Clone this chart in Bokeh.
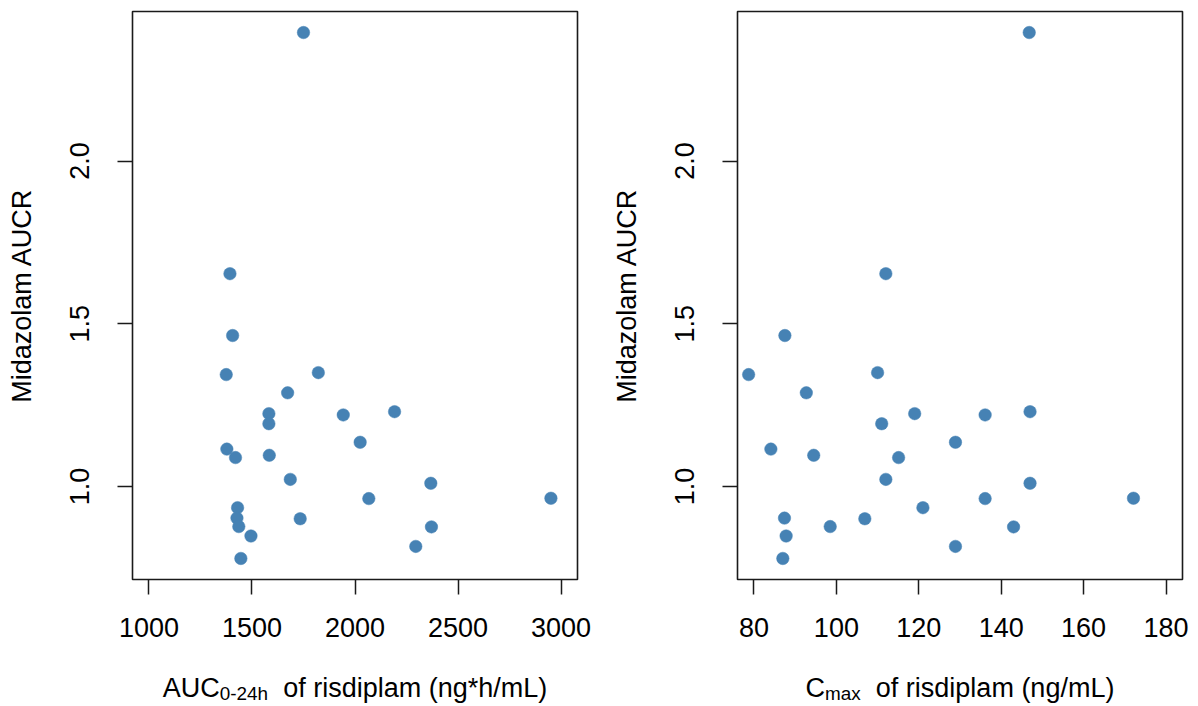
from bokeh.plotting import figure
from bokeh.layouts import row, column
from bokeh.models import Range1d, FixedTicker, NumeralTickFormatter
from bokeh.core.properties import value
from bokeh.embed import file_html
from bokeh.resources import INLINE

# ---- data ----
aucr = [2.395, 1.654, 1.464, 1.344, 1.350, 1.288, 1.224, 1.193, 1.220, 1.230,
        1.136, 1.115, 1.096, 1.089, 1.022, 1.010, 0.963, 0.964, 0.935, 0.903,
        0.901, 0.877, 0.876, 0.848, 0.816, 0.779]
auc_0_24h = [1750, 1393, 1406, 1375, 1822, 1673, 1582, 1582, 1943, 2192,
             2025, 1378, 1584, 1420, 1686, 2368, 2067, 2951, 1430, 1427,
             1734, 1436, 2371, 1495, 2295, 1446]
cmax = [146.8, 112.0, 87.5, 78.7, 110.0, 92.7, 119.0, 111.0, 136.1, 147.0,
        128.9, 84.1, 94.5, 115.1, 112.0, 147.0, 136.1, 172.1, 121.0, 87.4,
        106.9, 98.5, 143.0, 87.8, 128.9, 87.0]

auc_ticks = [1000, 1500, 2000, 2500, 3000]
cmax_ticks = [80, 100, 120, 140, 160, 180]
y_ticks = [1.0, 1.5, 2.0]
y_label = "Midazolam AUCR"

FONT = "Liberation Sans"
FS = 27
SUB_FS = FS * 0.7
POINT_COLOR = "#4682B4"
MAIN_H = 656
TITLE_H = 50
FRAME_L, FRAME_R = 132, 577   # frame edges inside each panel (px)

# Arial / Liberation Sans advance widths (em)
W = {'A': .667, 'U': .722, 'C': .722, 'L': .556, '0': .556, '2': .556, '4': .556,
     '-': .333, 'h': .556, 'm': .833, 'a': .556, 'x': .5, 'o': .556, 'f': .278,
     ' ': .278, 'r': .333, 'i': .222, 's': .5, 'd': .556, 'p': .556, 'l': .222,
     '(': .333, ')': .333, 'n': .556, 'g': .556, '*': .389, '/': .278}


def tw(s, size):
    return sum(W.get(c, .556) for c in s) * size


def pad(lo, hi):
    d = (hi - lo) * 0.04
    return lo - d, hi + d


def panel(xvals, xlim, xticks, width):
    ylo, yhi = pad(min(aucr), max(aucr))
    xlo, xhi = pad(*xlim)
    p = figure(width=width, height=MAIN_H, x_range=Range1d(xlo, xhi),
               y_range=Range1d(ylo, yhi), output_backend="svg",
               toolbar_location=None, min_border_left=FRAME_L,
               min_border_right=width - FRAME_R,
               min_border_top=11, min_border_bottom=MAIN_H - 579)
    p.grid.visible = False
    p.outline_line_color = "#1a1a1a"
    p.outline_line_width = 1.6
    p.background_fill_color = "white"
    p.border_fill_color = "white"
    p.scatter(xvals, aucr, size=12.5, fill_color=POINT_COLOR,
              line_color=POINT_COLOR, line_width=0.5)

    for ax in (p.xaxis[0], p.yaxis[0]):
        ax.axis_line_color = None
        ax.major_tick_out = 15
        ax.major_tick_in = 0
        ax.major_tick_line_color = "#1a1a1a"
        ax.major_tick_line_width = 1.5
        ax.minor_tick_line_color = None
        ax.major_label_text_font = FONT
        ax.major_label_text_font_size = f"{FS}px"
        ax.major_label_text_color = "black"
    p.xaxis[0].ticker = FixedTicker(ticks=xticks)
    p.xaxis[0].formatter = NumeralTickFormatter(format="0")
    p.xaxis[0].major_label_standoff = 23
    p.yaxis[0].ticker = FixedTicker(ticks=y_ticks)
    p.yaxis[0].formatter = NumeralTickFormatter(format="0.0")
    p.yaxis[0].major_label_orientation = "vertical"
    p.yaxis[0].major_label_standoff = 28
    p.yaxis[0].axis_label = y_label
    p.yaxis[0].axis_label_text_font = FONT
    p.yaxis[0].axis_label_text_font_size = f"{FS}px"
    p.yaxis[0].axis_label_text_font_style = "normal"
    p.yaxis[0].axis_label_text_color = "black"
    p.yaxis[0].axis_label_standoff = 31
    return p


def title_strip(width, main, sub, rest):
    # the column aligns this strip's frame with the panel frame above,
    # so its x range is expressed in the panel's pixel coordinates
    t = figure(width=width, height=TITLE_H, x_range=Range1d(FRAME_L, FRAME_R),
               y_range=Range1d(0, TITLE_H), output_backend="svg",
               toolbar_location=None, x_axis_type=None, y_axis_type=None,
               min_border_left=FRAME_L, min_border_right=width - FRAME_R,
               min_border_top=0, min_border_bottom=0)
    t.grid.visible = False
    t.outline_line_color = None
    t.border_fill_color = "white"
    t.background_fill_color = "white"
    center = (FRAME_L + FRAME_R) / 2
    gap = tw("  ", FS)
    total = tw(main, FS) + tw(sub, SUB_FS) + gap + tw(rest, FS)
    x0 = center - total / 2
    x1 = x0 + tw(main, FS)
    x2 = x1 + tw(sub, SUB_FS) + gap
    mid = 19
    t.text(x=[x0], y=[mid], text=[main], text_font=value(FONT),
           text_font_size=f"{FS}px", text_align="left",
           text_baseline="middle", text_color="black")
    t.text(x=[x1], y=[mid - 6], text=[sub], text_font=value(FONT),
           text_font_size=f"{SUB_FS}px", text_align="left",
           text_baseline="middle", text_color="black")
    t.text(x=[x2], y=[mid], text=[rest], text_font=value(FONT),
           text_font_size=f"{FS}px", text_align="left",
           text_baseline="middle", text_color="black")
    return t


LW, RW = 605, 592
p1 = panel(auc_0_24h, (1000, 3000), auc_ticks, LW)
p2 = panel(cmax, (80, 180), cmax_ticks, RW)
t1 = title_strip(LW, "AUC", "0-24h", "of risdiplam (ng*h/mL)")
t2 = title_strip(RW, "C", "max", "of risdiplam (ng/mL)")

layout = row(column(p1, t1), column(p2, t2))
open("out.html", "w").write(file_html(layout, INLINE))
